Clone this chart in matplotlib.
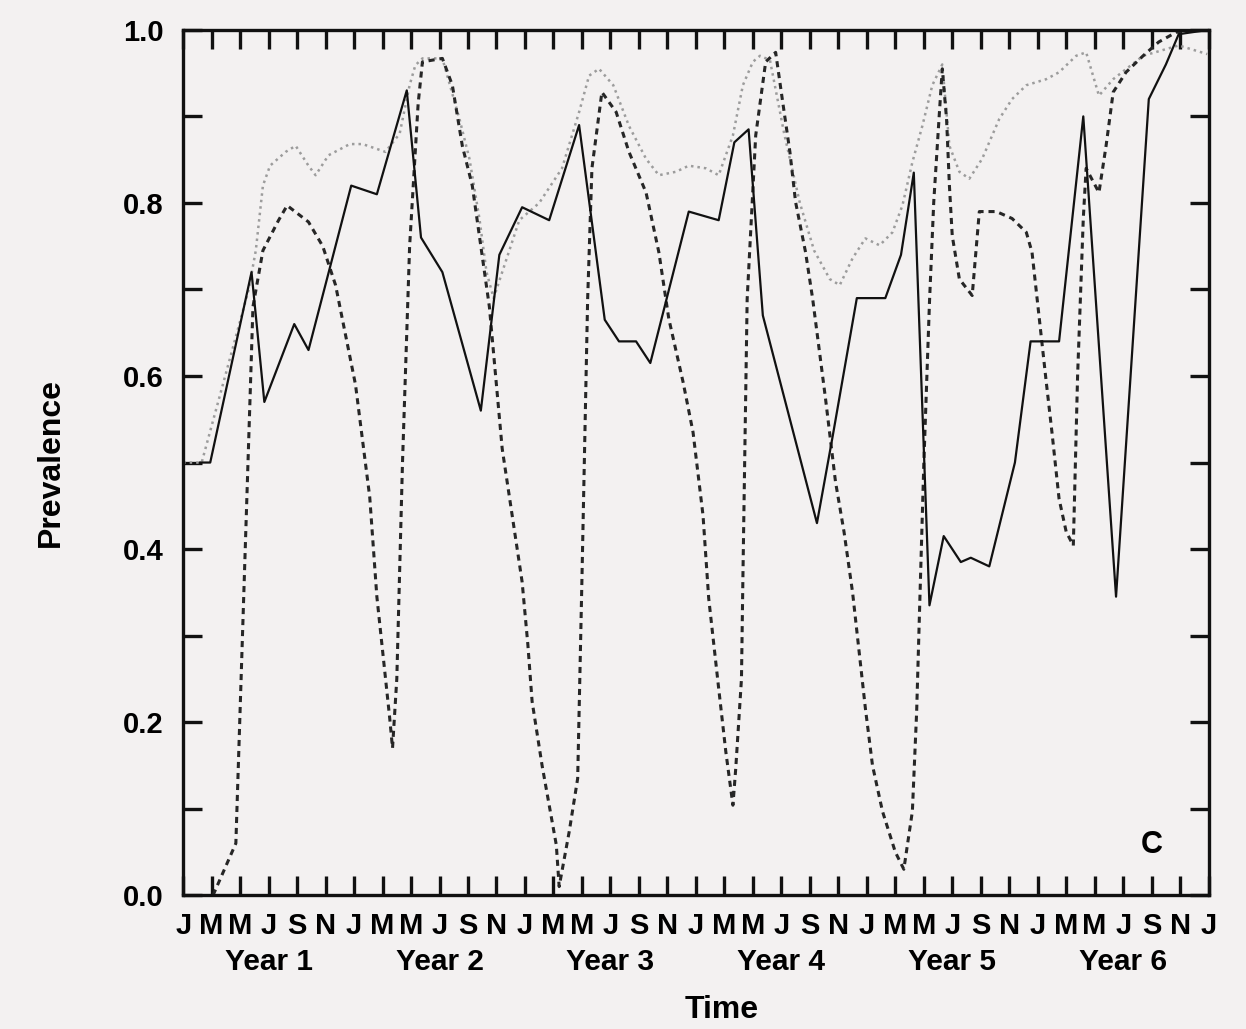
import numpy as np
import matplotlib.pyplot as plt

# months since January of year 1 (0 = Jan, 72 = Jan of year 7)
solid_t = [1.2, 1.9, 4.8, 5.7, 7.8, 8.8, 11.8, 13.6, 15.7, 16.7, 18.2, 20.9, 22.2,
           23.8, 25.7, 27.8, 29.6, 30.6, 31.8, 32.8, 35.5, 37.6, 38.7, 39.7, 40.7,
           44.5, 45.6, 47.3, 49.3, 50.4, 51.3, 52.4, 53.4, 54.6, 55.3, 56.6, 58.4,
           59.5, 61.5, 63.2, 65.5, 67.8, 69.0, 69.9, 72.0]
solid_p = [0.50, 0.50, 0.72, 0.57, 0.66, 0.63, 0.82, 0.81, 0.93, 0.76, 0.72, 0.56, 0.74,
           0.795, 0.78, 0.89, 0.665, 0.64, 0.64, 0.615, 0.79, 0.78, 0.87, 0.885, 0.67,
           0.43, 0.53, 0.69, 0.69, 0.74, 0.835, 0.335, 0.415, 0.385, 0.39, 0.38, 0.50,
           0.64, 0.64, 0.90, 0.345, 0.92, 0.96, 0.995, 1.0]

dashed_t = [2.1, 3.7, 4.9, 5.6, 6.7, 7.3, 8.8, 9.8, 10.7, 12.1, 13.1, 13.6, 14.5, 14.7,
            15.0, 15.4, 15.9, 16.5, 16.8, 18.2, 18.9, 19.6, 20.3, 20.9, 21.5, 22.4,
            23.8, 24.2, 24.5, 25.2, 26.2, 26.4, 27.1, 27.7, 28.0, 28.4, 28.7, 29.4,
            30.4, 31.3, 32.5, 33.4, 34.1, 35.1, 35.8, 36.5, 36.9, 37.6, 38.1, 38.6,
            38.8, 39.2, 39.3, 39.6, 40.2, 40.9, 41.6, 42.1, 42.6, 43.0, 43.7, 44.2,
            45.1, 45.8, 46.4, 47.0, 47.9, 48.4, 49.1, 50.0, 50.6, 51.2, 51.5, 51.7,
            52.0, 52.4, 52.7, 53.1, 53.3, 53.6, 53.8, 54.0, 54.5, 55.4, 55.9, 57.1,
            58.2, 59.2, 59.6, 60.6, 61.0, 61.5, 62.0, 62.5, 62.8, 63.2, 63.4, 64.3,
            64.8, 65.3, 66.2, 67.4, 68.5, 69.7, 70.9]
dashed_p = [0.0, 0.06, 0.68, 0.745, 0.78, 0.797, 0.778, 0.75, 0.705, 0.59, 0.46, 0.345,
            0.205, 0.17, 0.25, 0.50, 0.75, 0.915, 0.963, 0.967, 0.936, 0.866, 0.82,
            0.75, 0.68, 0.516, 0.362, 0.29, 0.224, 0.15, 0.058, 0.01, 0.073, 0.135,
            0.366, 0.689, 0.84, 0.928, 0.905, 0.859, 0.812, 0.743, 0.666, 0.593,
            0.535, 0.439, 0.343, 0.239, 0.166, 0.104, 0.147, 0.25, 0.366, 0.689,
            0.878, 0.963, 0.974, 0.916, 0.859, 0.801, 0.743, 0.689, 0.574, 0.478,
            0.42, 0.35, 0.216, 0.15, 0.097, 0.05, 0.03, 0.097, 0.212, 0.327, 0.497,
            0.685, 0.801, 0.905, 0.955, 0.897, 0.82, 0.762, 0.712, 0.693, 0.79, 0.79,
            0.782, 0.766, 0.743, 0.593, 0.535, 0.458, 0.42, 0.404, 0.6, 0.782, 0.84,
            0.812, 0.866, 0.928, 0.951, 0.97, 0.986, 0.997, 1.0]

dotted_t = [0.0, 1.3, 4.6, 5.1, 5.6, 6.1, 7.2, 7.9, 8.8, 9.3, 10.2, 11.7, 12.6, 14.2,
            15.2, 15.9, 16.3, 16.8, 18.2, 19.4, 20.1, 20.8, 21.3, 21.8, 23.6, 25.0,
            26.6, 27.8, 28.5, 29.2, 30.2, 31.3, 32.5, 33.4, 34.6, 35.5, 36.7, 37.6,
            38.6, 39.3, 40.0, 40.5, 41.2, 42.2, 43.3, 44.3, 45.4, 46.1, 47.0, 47.9,
            48.9, 49.8, 50.5, 51.2, 51.9, 52.6, 53.3, 53.8, 54.5, 55.2, 56.1, 57.3,
            58.2, 59.2, 60.6, 61.5, 62.7, 63.4, 64.3, 65.3, 67.4, 69.9, 71.9]
dotted_p = [0.50, 0.50, 0.70, 0.745, 0.82, 0.843, 0.859, 0.866, 0.843, 0.832, 0.855,
            0.868, 0.868, 0.859, 0.88, 0.936, 0.959, 0.967, 0.967, 0.897, 0.851, 0.782,
            0.72, 0.69, 0.78, 0.80, 0.84, 0.905, 0.947, 0.955, 0.936, 0.889, 0.851,
            0.832, 0.836, 0.843, 0.84, 0.832, 0.878, 0.936, 0.963, 0.97, 0.965, 0.88,
            0.80, 0.745, 0.712, 0.705, 0.736, 0.759, 0.751, 0.766, 0.797, 0.847, 0.889,
            0.936, 0.96, 0.866, 0.836, 0.828, 0.851, 0.897, 0.92, 0.936, 0.943, 0.951,
            0.97, 0.974, 0.924, 0.943, 0.97, 0.982, 0.972]

month_labels = ["J", "M", "M", "J", "S", "N"] * 6 + ["J"]
year_labels = ["Year 1", "Year 2", "Year 3", "Year 4", "Year 5", "Year 6"]

bg = "#f3f1f1"
plt.rcParams["font.family"] = ["Liberation Sans", "DejaVu Sans"]
plt.rcParams["font.weight"] = "bold"

fig = plt.figure(figsize=(12.46, 10.29), dpi=100, facecolor=bg)
ax = fig.add_axes([0.147, 0.130, 0.823, 0.841], facecolor=bg)

ax.plot(dotted_t, dotted_p, color="#9c9c9c", lw=1.8, linestyle=(0, (1, 1.6)))
ax.plot(dashed_t, dashed_p, color="#262626", lw=2.2, linestyle=(0, (2, 1.6)))
ax.plot(solid_t, solid_p, color="#111111", lw=1.6)

ax.set_xlim(0, 72)
ax.set_ylim(0, 1.0)
ax.set_xticks(np.arange(0, 73, 2))
ax.set_xticklabels(month_labels)
ax.set_yticks(np.arange(0, 1.01, 0.2))
ax.set_yticklabels(["0.0", "0.2", "0.4", "0.6", "0.8", "1.0"])
ax.set_yticks(np.arange(0, 1.01, 0.1), minor=True)

ax.tick_params(which="both", direction="in", top=True, right=True,
               length=14, width=2.4, color="#111111")
ax.tick_params(axis="x", labelsize=21, pad=12)
ax.tick_params(axis="y", labelsize=21, pad=14)
for s in ax.spines.values():
    s.set_linewidth(2.4)
    s.set_color("#111111")

for i, yl in enumerate(year_labels):
    ax.text(6 + 12 * i, -0.077, yl, transform=ax.get_xaxis_transform(),
            ha="center", va="center", fontsize=21.5, fontweight="bold")

ax.text(68.0, 0.058, "C", ha="center", va="center", fontsize=22, fontweight="bold")

fig.text(0.579, 0.018, "Time", ha="center", va="center", fontsize=23, fontweight="bold")
fig.text(0.041, 0.551, "Prevalence", ha="center", va="center", rotation=90,
         fontsize=23, fontweight="bold")

fig.savefig("out.png", dpi=100, facecolor=bg)
